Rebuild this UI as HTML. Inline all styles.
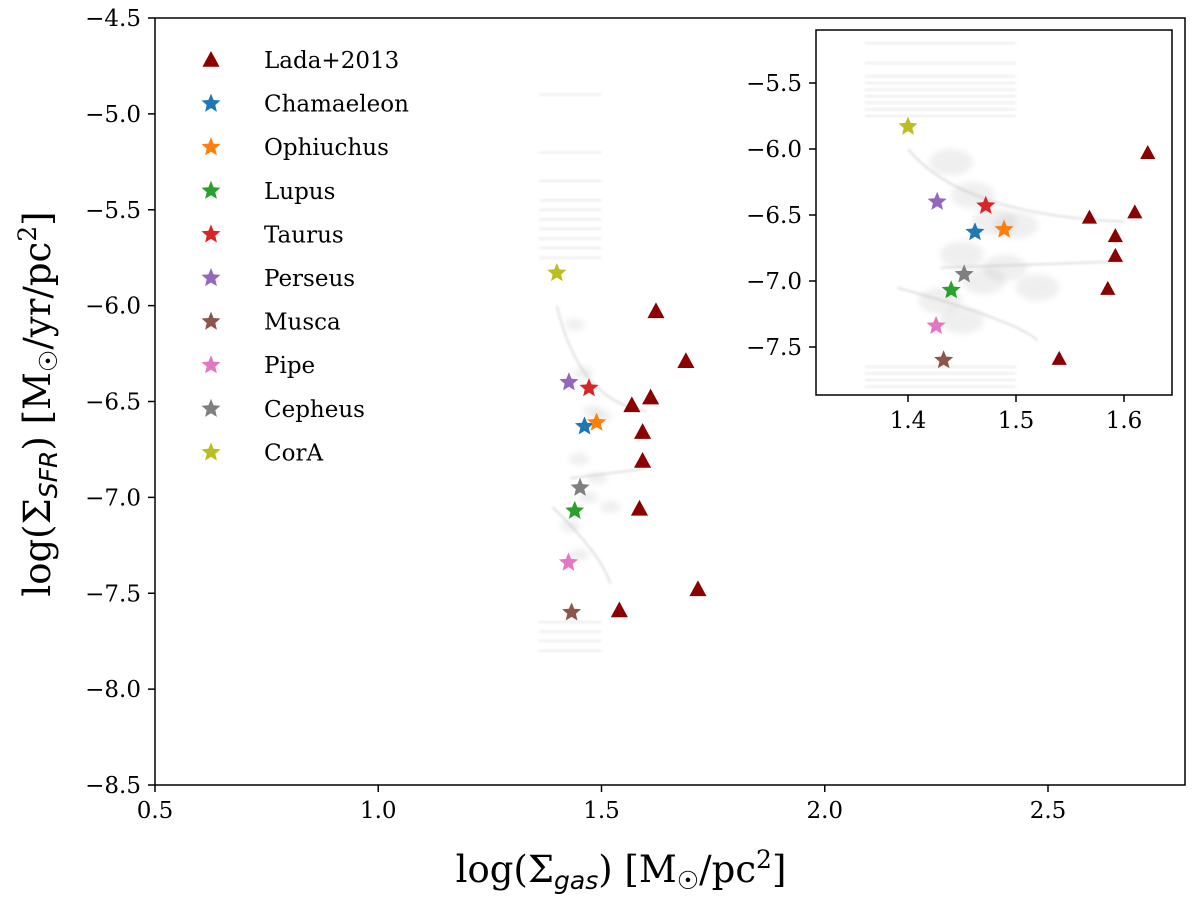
<!DOCTYPE html>
<html><head><meta charset="utf-8"><style>
body{margin:0;background:#fff;}
svg{display:block;font-family:"DejaVu Serif","Liberation Serif",serif;}
.sub{font-family:"DejaVu Sans","Liberation Sans",sans-serif;font-style:italic;}
</style></head><body>
<svg id="chart" width="1200" height="905" viewBox="0 0 1200 905" xmlns="http://www.w3.org/2000/svg">
<defs>
<filter id="blur" x="-50%" y="-50%" width="200%" height="200%"><feGaussianBlur stdDeviation="3"/></filter>
<filter id="blur2" x="-50%" y="-50%" width="200%" height="200%"><feGaussianBlur stdDeviation="1.2"/></filter>
<clipPath id="mainclip"><rect x="155" y="18" width="1030" height="767"/></clipPath>
<clipPath id="insetclip"><rect x="816" y="30" width="356" height="365"/></clipPath>
</defs>
<g id="main-density" clip-path="url(#mainclip)"></g>
<g id="main-marks"></g>
<g id="main-axes"></g>
<g id="legend"></g>
<rect x="816" y="30" width="356" height="365" fill="#fff"/>
<g id="inset-density" clip-path="url(#insetclip)"></g>
<g id="inset-marks" clip-path="url(#insetclip)"></g>
<g id="inset-axes"></g>
<text x="621" y="882" text-anchor="middle" font-size="37">log(Σ<tspan class="sub" font-size="25" dy="7">gas</tspan><tspan dy="-7">) [M</tspan><tspan font-size="25" dy="7">☉</tspan><tspan dy="-7">/pc</tspan><tspan font-size="25" dy="-14">2</tspan><tspan dy="14">]</tspan></text>
<text transform="translate(50,404) rotate(-90)" text-anchor="middle" font-size="37">log(Σ<tspan class="sub" font-size="25" dy="7">SFR</tspan><tspan dy="-7">) [M</tspan><tspan font-size="25" dy="7">☉</tspan><tspan dy="-7">/yr/pc</tspan><tspan font-size="25" dy="-14">2</tspan><tspan dy="14">]</tspan></text>
</svg>
<script>
const ladaX=[1.622,1.689,1.568,1.61,1.592,1.592,1.585,1.716,1.54];
const ladaY=[-6.03,-6.29,-6.52,-6.48,-6.66,-6.81,-7.06,-7.48,-7.59];
const cloudNames=["Chamaeleon","Ophiuchus","Lupus","Taurus","Perseus","Musca","Pipe","Cepheus","CorA"];
const cloudColors=["#1f77b4","#ff7f0e","#2ca02c","#d62728","#9467bd","#8c564b","#e377c2","#7f7f7f","#bcbd22"];
const cloudX=[1.462,1.489,1.44,1.472,1.427,1.433,1.426,1.452,1.40];
const cloudY=[-6.63,-6.61,-7.07,-6.43,-6.40,-7.60,-7.34,-6.95,-5.83];
const mainXTicks=[0.5,1.0,1.5,2.0,2.5];
const mainYTicks=[-4.5,-5.0,-5.5,-6.0,-6.5,-7.0,-7.5,-8.0,-8.5];
const insetXTicks=[1.4,1.5,1.6];
const insetYTicks=[-5.5,-6.0,-6.5,-7.0,-7.5];
const streakY=[-4.9,-5.2,-5.35,-5.45,-5.5,-5.55,-5.6,-5.65,-5.7,-5.75,-7.65,-7.7,-7.75,-7.8];
const blobX=[1.44,1.46,1.48,1.5,1.45,1.47,1.43,1.45,1.49,1.52];
const blobY=[-6.1,-6.35,-6.55,-6.58,-6.8,-7.0,-7.15,-7.3,-6.9,-7.05];

const NS="http://www.w3.org/2000/svg";
function mk(tag,attrs,parent){const e=document.createElementNS(NS,tag);for(const k in attrs)e.setAttribute(k,attrs[k]);parent.appendChild(e);return e;}
const mx=v=>155+(v-0.5)*446.5, my=v=>18+(-4.5-v)*191.75;
const ix=v=>908+(v-1.4)*1080, iy=v=>83+(-5.5-v)*132;
function star(cx,cy,r,color,parent,name){
  let p="";for(let i=0;i<10;i++){const a=-Math.PI/2+i*Math.PI/5;const rr=i%2?r*0.45:r;p+=(i?"L":"M")+(cx+rr*Math.cos(a)).toFixed(1)+","+(cy+rr*Math.sin(a)).toFixed(1);}
  const e=mk("path",{d:p+"Z",fill:color},parent);
  
  
}
function tri(cx,cy,s,parent,name){
  const e=mk("path",{d:`M${cx},${cy-s}L${cx+s*0.95},${cy+s*0.75}L${cx-s*0.95},${cy+s*0.75}Z`,fill:"#8b0000"},parent);
  
  
}
function density(g,X,Y,sc){
  streakY.forEach(v=>{const l=mk("rect",{x:X(1.36),y:Y(v)-1,width:(X(1.5)-X(1.36)),height:2,fill:"#ddd",opacity:0.6,filter:"url(#blur2)"},g);
    });
  blobX.forEach((v,i)=>{const e=mk("ellipse",{cx:X(v),cy:Y(blobY[i]),rx:10*sc,ry:6*sc,fill:"#999",opacity:0.15,filter:"url(#blur)"},g);
    });
  const pth=mk("path",{d:`M${X(1.4)},${Y(-6.0)} Q${X(1.45)},${Y(-6.5)} ${X(1.6)},${Y(-6.55)} M${X(1.39)},${Y(-7.05)} Q${X(1.5)},${Y(-7.3)} ${X(1.52)},${Y(-7.45)} M${X(1.43)},${Y(-6.9)} L${X(1.6)},${Y(-6.85)}`,fill:"none",stroke:"#aaa","stroke-width":1.5,opacity:0.5,filter:"url(#blur2)"},g);
  
}
function axes(g,X,Y,xt,yt,x0,y0,x1,y1,fs){
  const r=mk("rect",{x:x0,y:y0,width:x1-x0,height:y1-y0,fill:"none",stroke:"#000","stroke-width":1.5},g);
  
  xt.forEach(v=>{const x=X(v);mk("line",{x1:x,x2:x,y1:y1,y2:y1+7,stroke:"#000","stroke-width":1.5},g);
    const t=mk("text",{x:x,y:y1+33,"text-anchor":"middle","font-size":fs},g);t.textContent=v.toFixed(1);
    });
  yt.forEach(v=>{const y=Y(v);mk("line",{x1:x0-7,x2:x0,y1:y,y2:y,stroke:"#000","stroke-width":1.5},g);
    const t=mk("text",{x:x0-14,y:y+8,"text-anchor":"end","font-size":fs},g);t.textContent="\u2212"+Math.abs(v).toFixed(1);
    });
}
const md=document.getElementById("main-density"),mm=document.getElementById("main-marks");
density(md,mx,my,1);
ladaX.forEach((v,i)=>tri(mx(v),my(ladaY[i]),9,mm,'lada-point'));
cloudX.forEach((v,i)=>star(mx(v),my(cloudY[i]),10,cloudColors[i],mm,'star-'+cloudNames[i].toLowerCase()));
axes(document.getElementById("main-axes"),mx,my,mainXTicks,mainYTicks,155,18,1185,785,23);
const idn=document.getElementById("inset-density"),im=document.getElementById("inset-marks");
density(idn,ix,iy,2.2);
ladaX.forEach((v,i)=>tri(ix(v),iy(ladaY[i]),8,im,'inset-lada-point'));
cloudX.forEach((v,i)=>star(ix(v),iy(cloudY[i]),10,cloudColors[i],im,'inset-star-'+cloudNames[i].toLowerCase()));
axes(document.getElementById("inset-axes"),ix,iy,insetXTicks,insetYTicks,816,30,1172,395,23);
const lg=document.getElementById("legend");
const entries=[["Lada+2013",null]].concat(cloudNames.map((n,i)=>[n,cloudColors[i]]));
entries.forEach((e,i)=>{const y=60+i*43.6;
  if(e[1]===null)tri(211,y,9,lg,'legend-marker-lada');else star(211,y,10,e[1],lg,'legend-marker-'+e[0].toLowerCase());
  const t=mk("text",{x:264,y:y+8,"font-size":23},lg);t.textContent=e[0];
  });
</script>
</body></html>
